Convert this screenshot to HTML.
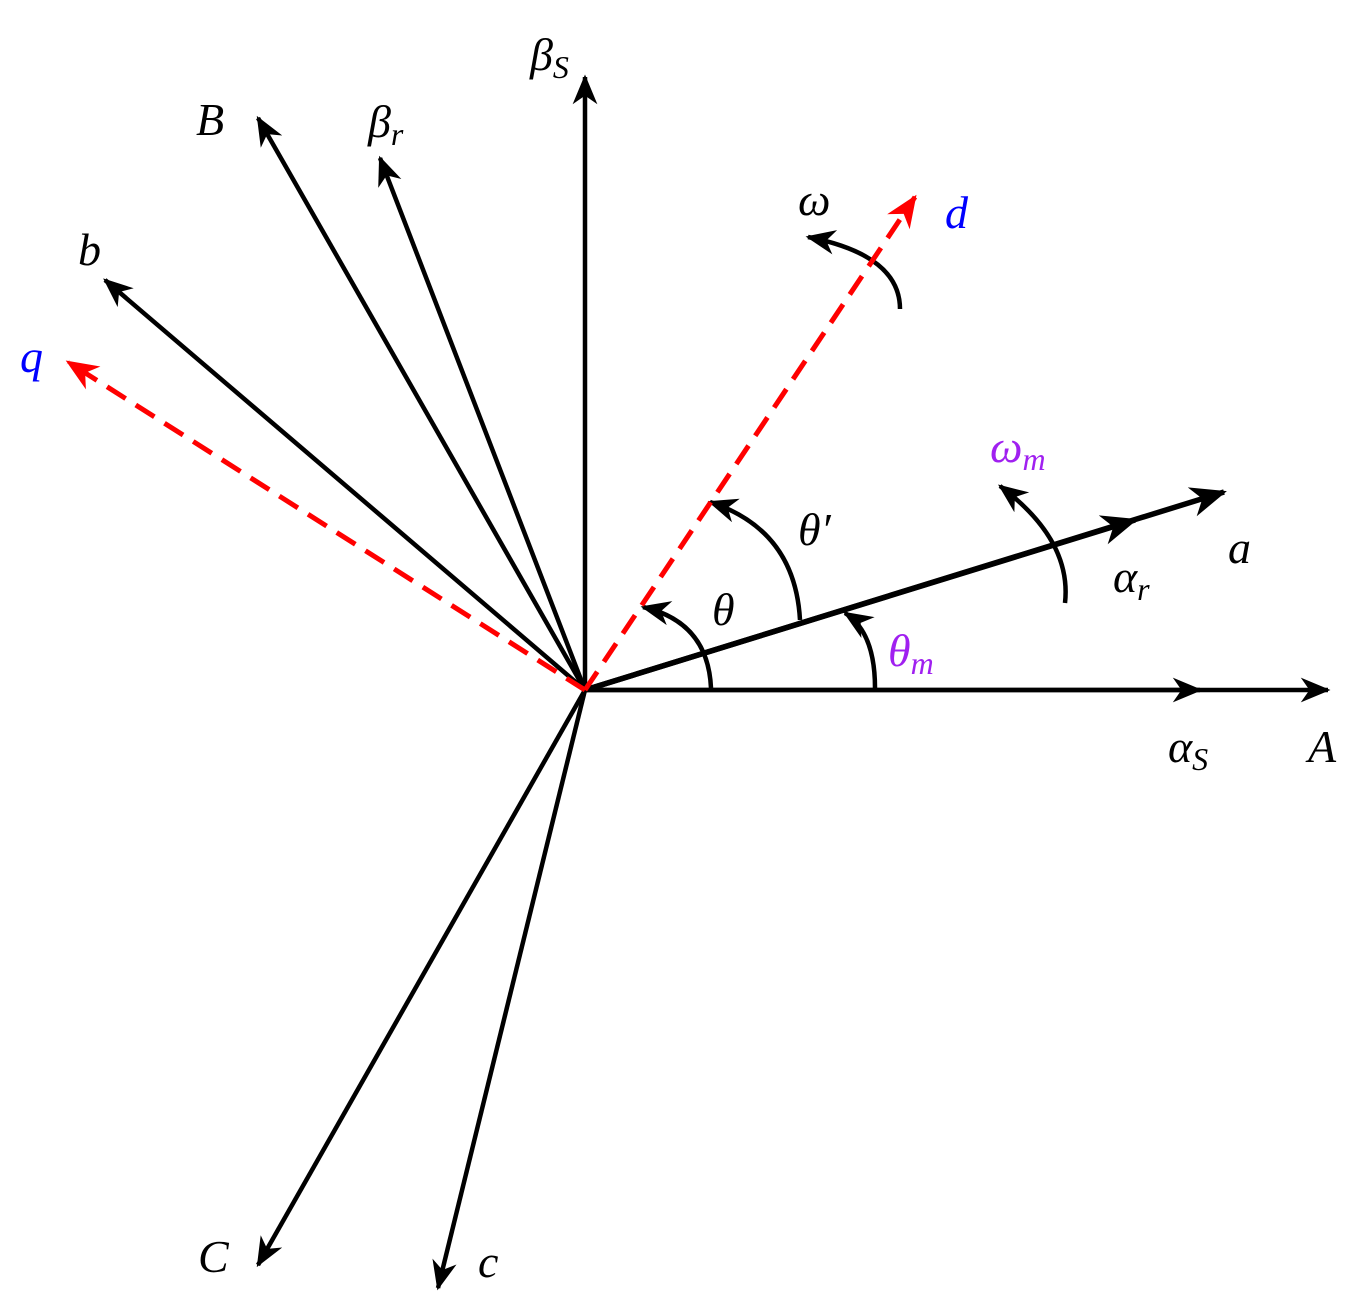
<!DOCTYPE html>
<html><head><meta charset="utf-8"><style>
html,body{margin:0;padding:0;background:#fff;}
svg{display:block}
text{font-family:"Liberation Serif","Times New Roman",serif;font-style:italic;}
</style></head><body>
<svg width="1368" height="1310" viewBox="0 0 1368 1310" xmlns="http://www.w3.org/2000/svg">
<defs>
<marker id="ak" viewBox="0 0 12 10" refX="11" refY="5" markerWidth="7" markerHeight="5.5" markerUnits="strokeWidth" orient="auto">
<path d="M0,0 L12,5 L0,10 L3.5,5 z" fill="#000"/></marker>
<marker id="ar" viewBox="0 0 12 10" refX="11" refY="5" markerWidth="6.5" markerHeight="5.5" markerUnits="strokeWidth" orient="auto">
<path d="M0,0 L12,5 L0,10 L3.5,5 z" fill="#f00"/></marker>
</defs>
<g stroke="#000" stroke-width="4.5" fill="none">
<line x1="585" y1="690" x2="1328" y2="690" marker-end="url(#ak)"/>
<line x1="585" y1="690" x2="1200" y2="690" marker-end="url(#ak)"/>
<line x1="585" y1="690" x2="585" y2="77" marker-end="url(#ak)"/>
<line x1="585" y1="690" x2="258" y2="118" marker-end="url(#ak)"/>
<line x1="585" y1="690" x2="380" y2="158" marker-end="url(#ak)"/>
<line x1="585" y1="690" x2="105" y2="280" marker-end="url(#ak)"/>
<line x1="585" y1="690" x2="258" y2="1265" marker-end="url(#ak)"/>
<line x1="585" y1="690" x2="438" y2="1288" marker-end="url(#ak)"/>
<line x1="585" y1="690" x2="1224" y2="492" stroke-width="5.5" marker-end="url(#ak)"/>
<line x1="585" y1="690" x2="1135" y2="520" stroke-width="5.5" marker-end="url(#ak)"/>
<path d="M711,688 Q708,622 643,607" marker-end="url(#ak)"/>
<path d="M800,620 Q795,530 710,502" marker-end="url(#ak)"/>
<path d="M875,688 Q875,632 845,613" marker-end="url(#ak)"/>
<path d="M1065,603 Q1072,540 1000,486" marker-end="url(#ak)"/>
<path d="M900,309 Q900,255 808,237" marker-end="url(#ak)"/>
</g>
<g stroke="#f00" stroke-width="5" fill="none" stroke-dasharray="22,12">
<line x1="585" y1="690" x2="915" y2="197" marker-end="url(#ar)"/>
<line x1="585" y1="690" x2="68" y2="362" marker-end="url(#ar)"/>
</g>
<g font-size="46" fill="#000">
<text x="530" y="70">β<tspan font-size="32" dy="8">S</tspan></text>
<text x="196" y="135">B</text>
<text x="368" y="137">β<tspan font-size="32" dy="8">r</tspan></text>
<text x="78" y="265">b</text>
<text x="798" y="215">ω</text>
<text x="798" y="545">θ′</text>
<text x="712" y="625">θ</text>
<text x="1113" y="592">α<tspan font-size="32" dy="8">r</tspan></text>
<text x="1228" y="563">a</text>
<text x="1168" y="762">α<tspan font-size="32" dy="8">S</tspan></text>
<text x="1308" y="762">A</text>
<text x="198" y="1272">C</text>
<text x="478" y="1277">c</text>
</g>
<g font-size="46" fill="#0000ff">
<text x="945" y="228">d</text>
<text x="20" y="372">q</text>
</g>
<g font-size="46" fill="#a020f0">
<text x="990" y="462">ω<tspan font-size="32" dy="8">m</tspan></text>
<text x="888" y="666">θ<tspan font-size="32" dy="8">m</tspan></text>
</g>
</svg>
</body></html>
